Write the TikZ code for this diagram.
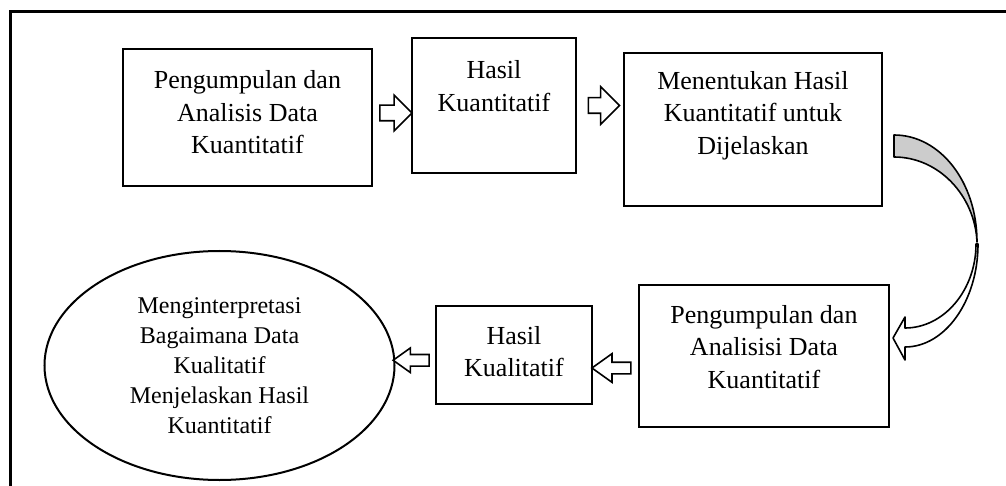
\documentclass[tikz,border=0pt]{standalone}
\usepackage{fontspec}
\setmainfont{Liberation Serif}
\usetikzlibrary{shapes.geometric,shapes.arrows,calc}
\tikzset{
   stage/.style={draw, line width=2.2pt, inner sep=0pt},
   stage text/.style={font=\fontsize{26}{32.5}\selectfont, align=center, inner sep=0pt},
   hollow arrow/.style={single arrow, draw, line width=1.6pt, fill=white, inner xsep=0pt},
   bend band/.style={draw, line width=1.6pt, line join=round}
}

\begin{document}
\begin{tikzpicture}[x=1pt, y=-1pt]
    \useasboundingbox (0,0) rectangle (1006,486);
    % outer frame, cut by the page on the right and at the bottom
    \draw[line width=2.6pt] (10.5,520) -- (10.5,11.5) -- (1030,11.5);

    % top row: quantitative phase
    \node[stage, minimum width=249pt, minimum height=137pt] (kumpulKuan) at (247.5,117.5) {};
    \node[stage text] (kumpulKuanTxt) at (247.5,112.5) {Pengumpulan dan\\Analisis Data\\Kuantitatif};
    \node[stage, minimum width=164pt, minimum height=135pt] (hasilKuan) at (494,105.5) {};
    \node[stage text] (hasilKuanTxt) at (494,86) {Hasil\\Kuantitatif};
    \node[stage, minimum width=258pt, minimum height=153pt] (tentukan) at (753,129.5) {};
    \node[stage text] (tentukanTxt) at (753,115.5) {Menentukan Hasil\\Kuantitatif untuk\\Dijelaskan};

    % bottom row: qualitative phase
    \node[stage, minimum width=250pt, minimum height=142pt] (kumpulKual) at (764,356) {};
    \node[stage text] (kumpulKualTxt) at (764,347) {Pengumpulan dan\\Analisisi Data\\Kuantitatif};
    \node[stage, minimum width=156pt, minimum height=98pt] (hasilKual) at (514,355) {};
    \node[stage text] (hasilKualTxt) at (514,351.5) {Hasil\\Kualitatif};
    \node[ellipse, draw, line width=2pt, minimum width=350pt, minimum height=229pt, inner sep=0pt,
          align=center, font=\fontsize{24}{30}\selectfont] (tafsir) at (219.5,365.5)
          {Menginterpretasi\\Bagaimana Data\\Kualitatif\\Menjelaskan Hasil\\Kuantitatif};

    % hollow block arrows between the stages
    \node[hollow arrow, minimum height=32pt, inner ysep=7pt, single arrow head extend=10pt, yshift=-1.5pt]
        (a1) at ($(kumpulKuan.east)!.5!(hasilKuan.west)$) {};
    \node[hollow arrow, minimum height=31pt, inner ysep=7pt, single arrow head extend=11pt]
        (a2) at ($(hasilKuan.east)!.5!(hasilKuan.east -| tentukan.west)$) {};
    \node[hollow arrow, shape border rotate=180, minimum height=39pt, inner ysep=5pt,
          single arrow head extend=8.5pt, single arrow tip angle=71, yshift=-12.5pt]
        (a3) at ($(hasilKual.east)!.5!(kumpulKual.west)$) {};
    \node[hollow arrow, shape border rotate=180, minimum height=36pt, inner ysep=5pt,
          single arrow head extend=6.5pt, single arrow tip angle=71]
        (a4) at ($(tafsir.east)!.5!(hasilKual.west)$) {};

    % curved arrow from the top row down to the bottom row
    \path[bend band, fill=black!20] (894,135) .. controls (940,135) and (977,182) .. (977,242)
        .. controls (975,196) and (939,157) .. (894,157) -- cycle;
    \path[bend band, fill=white] (905,328) .. controls (944,328) and (976,290) .. (976,244)
        -- (978,244) .. controls (978,301) and (945,347) .. (905,347)
        -- (905,360) -- (893,338) -- (905,317) -- cycle;
\end{tikzpicture}
\end{document}
